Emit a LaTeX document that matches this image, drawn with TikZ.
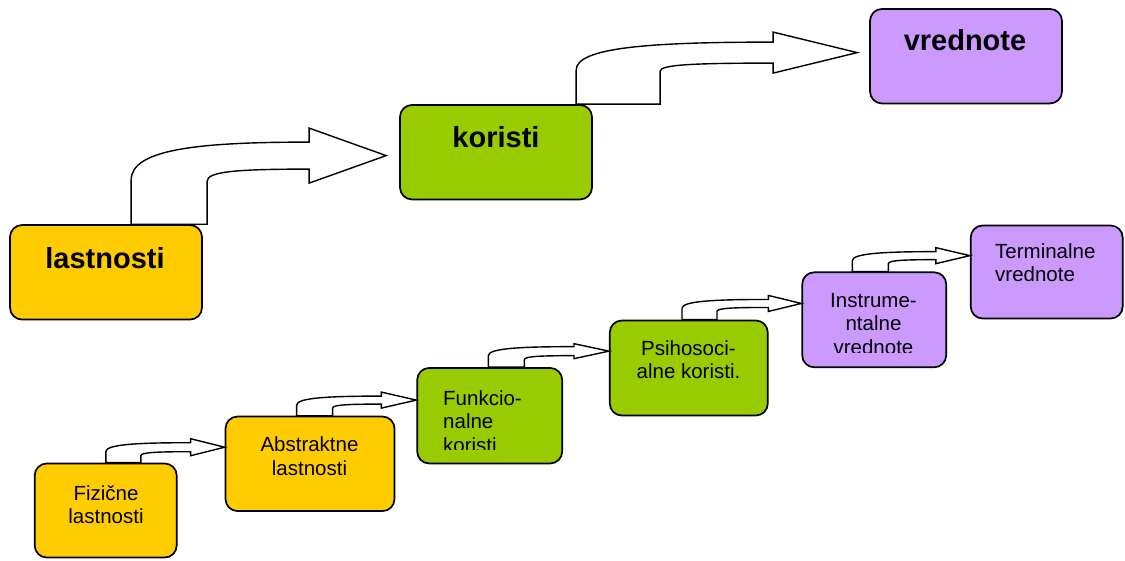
\documentclass[tikz,border=0pt]{standalone}
\usepackage{fontspec}
\setmainfont{Liberation Sans}
\usetikzlibrary{calc}

\definecolor{propyellow}{HTML}{FFCC00}
\definecolor{propgreen}{HTML}{99CC00}
\definecolor{proppurple}{HTML}{CC99FF}

% Bent block arrow rising from the top of a box and pointing right at a tip.
% #1 source node, #2 tip coordinate, #3 left side offset from source's left edge,
% #4 width of the rising part, #5 shaft thickness, #6 head length,
% #7 head overhang, #8 outer bend height, #9 inner bend height
\newcommand\bentarrow[9]{%
  \draw[arrowbody] let \p1=(#1.north west), \p2=(#2) in
    (\x1+#3pt, \y1)
    -- (\x1+#3pt, \y2+#5pt/2-#8pt)
    .. controls (\x1+#3pt, \y2+#5pt/2-0.2*#8pt) and (\x1+#3pt+0.85*#4pt, \y2+#5pt/2) ..
       (\x2-#6pt, \y2+#5pt/2)
    -- (\x2-#6pt, \y2+#5pt/2+#7pt)
    -- (\x2, \y2)
    -- (\x2-#6pt, \y2-#5pt/2-#7pt)
    -- (\x2-#6pt, \y2-#5pt/2)
    .. controls (\x1+#3pt+1.4*#4pt, \y2-#5pt/2) and (\x1+#3pt+#4pt, \y2-#5pt/2-0.2*#9pt) ..
       (\x1+#3pt+#4pt, \y2-#5pt/2-#9pt)
    -- (\x1+#3pt+#4pt, \y1) -- cycle;
}

\tikzset{
  box/.style={draw=black, line width=1.7pt, rounded corners=12pt, inner sep=0pt},
  bigtxt/.style={inner sep=0pt, font=\fontsize{29}{34}\selectfont\bfseries},
  smalltxt/.style={inner sep=0pt, font=\fontsize{20.5}{23.5}\selectfont},
  arrowbody/.style={draw=black, fill=white, line width=1.4pt, line join=miter}
}

\begin{document}
\begin{tikzpicture}[x=1pt, y=-1pt]
  \useasboundingbox (0,0) rectangle (1125,560);

  % upper chain
  \node[box, fill=propyellow, minimum width=192pt, minimum height=94.5pt] (lastnosti) at (106,272.3) {};
  \node[box, fill=propgreen,  minimum width=192pt, minimum height=94.5pt] (koristi)   at (496,152.2) {};
  \node[box, fill=proppurple, minimum width=192pt, minimum height=94.5pt] (vrednote)  at (966,56.2) {};

  \node[bigtxt, anchor=base] (lastnosti-txt) at (105,268) {lastnosti};
  \node[bigtxt, anchor=base] (koristi-txt)   at (496,147.5) {koristi};
  \node[bigtxt, anchor=base] (vrednote-txt)  at (965,50) {vrednote};

  % lower chain
  \node[box, fill=propyellow, minimum width=142pt, minimum height=94pt] (fizicne)    at (105.7,510.5) {};
  \node[box, fill=propyellow, minimum width=169pt, minimum height=94.5pt] (abstraktne) at (310,463.8) {};
  \node[box, fill=propgreen,  minimum width=145pt, minimum height=95.5pt] (funk)       at (489.7,415.7) {};
  \node[box, fill=propgreen,  minimum width=158pt, minimum height=95pt] (psiho)      at (688.8,368) {};
  \node[box, fill=proppurple, minimum width=144pt, minimum height=95pt] (instrum)    at (874.2,319.8) {};
  \node[box, fill=proppurple, minimum width=152pt, minimum height=93pt] (terminal)   at (1046.7,272) {};

  \node[smalltxt, anchor=base] (fizicne-txt) at (106,500)
    {\begin{tabular}[t]{@{}c@{}}Fizične\\lastnosti\end{tabular}};
  \node[smalltxt, anchor=base] (abstraktne-txt) at (309.5,451.7)
    {\begin{tabular}[t]{@{}c@{}}Abstraktne\\lastnosti\end{tabular}};
  \begin{scope}
    \clip (420,370) rectangle (560,449.6);
    \node[smalltxt, anchor=base west] (funk-txt) at (443,405)
      {\begin{tabular}[t]{@{}l@{}}Funkcio-\\nalne\\koristi\end{tabular}};
  \end{scope}
  \node[smalltxt, anchor=base] (psiho-txt) at (688.5,355)
    {\begin{tabular}[t]{@{}c@{}}Psihosoci-\\alne koristi.\end{tabular}};
  \begin{scope}
    \clip (805,275) rectangle (944,352.8);
    \node[smalltxt, anchor=base] (instrum-txt) at (873.5,307.3)
      {\begin{tabular}[t]{@{}c@{}}Instrume-\\ntalne\\vrednote\end{tabular}};
  \end{scope}
  \node[smalltxt, anchor=base west] (terminal-txt) at (995,258.3)
    {\begin{tabular}[t]{@{}l@{}}Terminalne\\vrednote\end{tabular}};

  % arrow tips: the large arrows stop short of the next box, the small ones touch it
  \coordinate (tip-kor)  at ([xshift=-13pt, yshift=-51.5pt]koristi.north west);
  \coordinate (tip-vred) at ([xshift=-12pt, yshift=-44.5pt]vrednote.north west);
  \coordinate (tip-abs)  at ([yshift=-31.5pt]abstraktne.north west);
  \coordinate (tip-funk) at ([yshift=-33pt]funk.north west);
  \coordinate (tip-psi)  at ([yshift=-31.5pt]psiho.north west);
  \coordinate (tip-ins)  at ([yshift=-32pt]instrum.north west);
  \coordinate (tip-term) at ([yshift=-31pt]terminal.north west);

  % bent block arrows
  \bentarrow{lastnosti}{tip-kor}{122}{76}{27}{77}{14}{38}{12}
  \bentarrow{koristi}{tip-vred}{177}{84}{21}{84}{10}{28}{8}
  \bentarrow{fizicne}{tip-abs}{72}{35}{9}{34}{4}{9}{4}
  \bentarrow{abstraktne}{tip-funk}{72}{36}{8}{35}{4}{9}{4}
  \bentarrow{funk}{tip-psi}{72}{36}{9}{35}{3}{9}{4}
  \bentarrow{psiho}{tip-ins}{73}{35}{8}{33}{4}{9}{4}
  \bentarrow{instrum}{tip-term}{51}{36}{8}{34}{4}{9}{4}
\end{tikzpicture}
\end{document}
